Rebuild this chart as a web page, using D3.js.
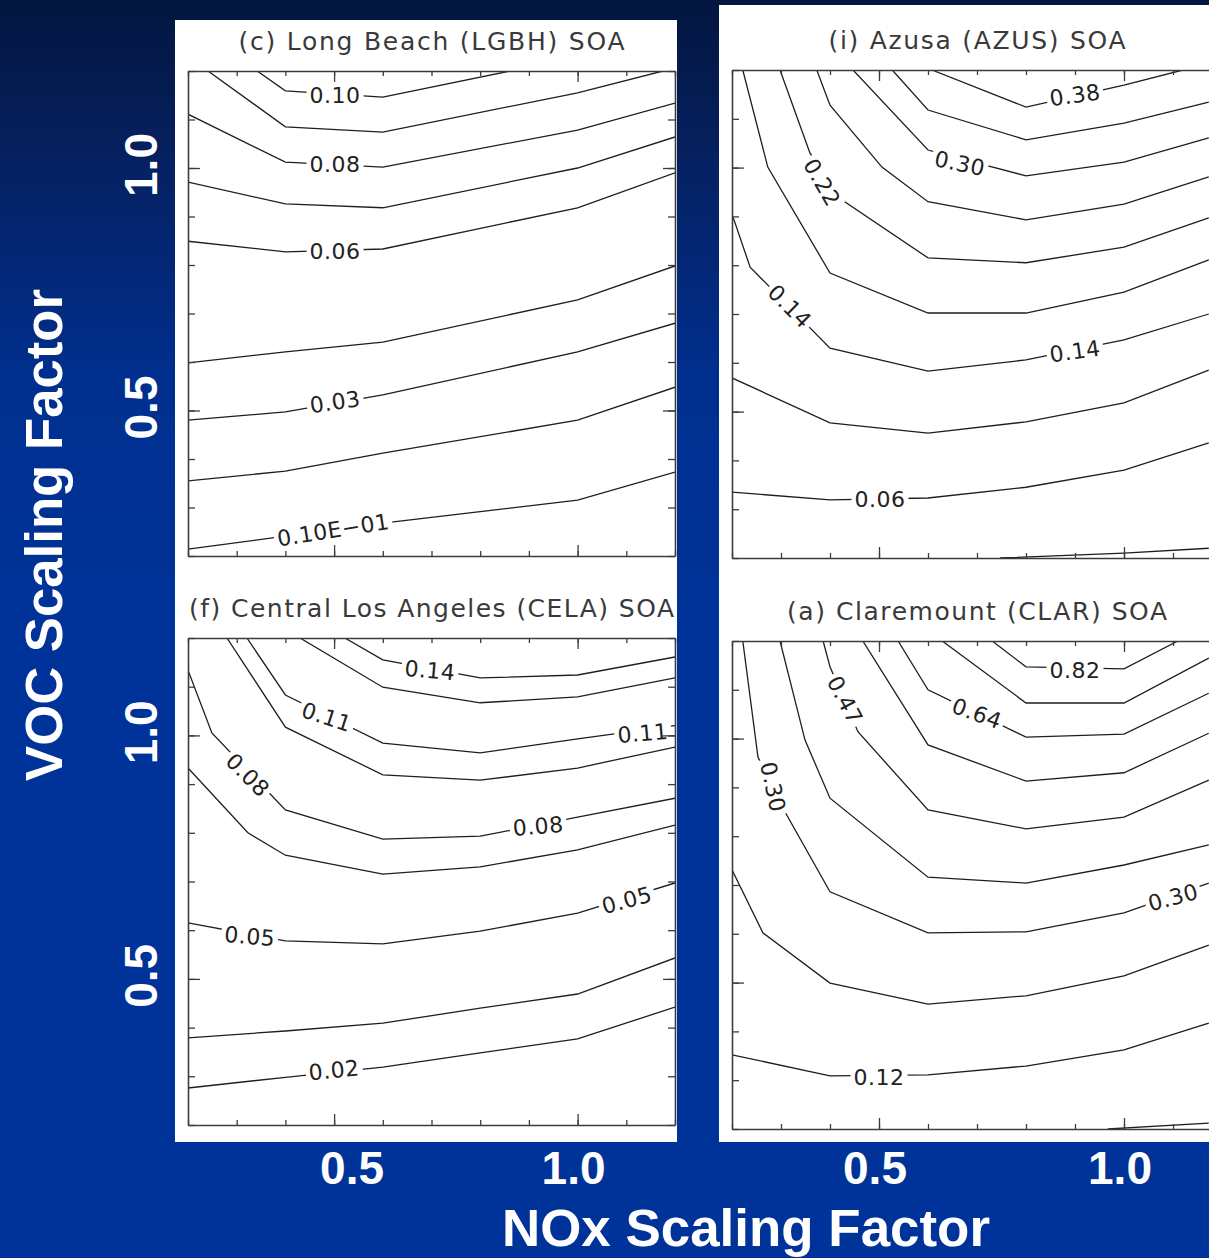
<!DOCTYPE html>
<html>
<head>
<meta charset="utf-8">
<script src="https://cdn.jsdelivr.net/npm/d3@7"></script>
<style>
  body { margin: 0; background: #003399; }
  svg { display: block; }
</style>
</head>
<body>
<div id="chart"></div>
<script>
"use strict"

const width = 1209,
    height = 1258;

// axis ticks (NOx and VOC scaling factors)
const tickValues = [0.2, 0.3, 0.4, 0.5, 0.6, 0.7, 0.8, 0.9, 1.0, 1.1, 1.2];
const majorTicks = [0.5, 1.0];
const axisLabels = ["0.5", "1.0"];

// contour lines, each one a list of [NOx, VOC] points
const lgbhLines = [
    [[0.342, 1.2], [0.4, 1.159], [0.6, 1.146], [0.861, 1.2]],
    [[0.241, 1.2], [0.4, 1.085], [0.6, 1.074], [1.0, 1.155], [1.175, 1.2]],
    [[0.2, 1.111], [0.4, 1.012], [0.6, 1.002], [1.0, 1.078], [1.2, 1.134]],
    [[0.2, 0.971], [0.4, 0.926], [0.6, 0.918], [1.0, 1.0], [1.2, 1.064]],
    [[0.2, 0.849], [0.4, 0.827], [0.6, 0.833], [1.0, 0.918], [1.2, 0.99]],
    [[0.2, 0.598], [0.4, 0.621], [0.6, 0.641], [1.0, 0.728], [1.2, 0.798]],
    [[0.2, 0.48], [0.4, 0.497], [0.6, 0.532], [1.0, 0.621], [1.2, 0.68]],
    [[0.2, 0.355], [0.4, 0.375], [0.6, 0.412], [1.0, 0.48], [1.2, 0.548]],
    [[0.2, 0.214], [0.4, 0.241], [0.6, 0.268], [1.0, 0.315], [1.2, 0.373]]
];
// [text, NOx, VOC, angle]
const lgbhLabels = [
    ["0.10", 0.502, 1.151, 0],
    ["0.08", 0.502, 1.008, 0],
    ["0.06", 0.502, 0.829, 0],
    ["0.03", 0.502, 0.518, -8],
    ["0.10E\u221201", 0.498, 0.254, -9]
];

const azusLines = [
    [[0.608, 1.2], [0.8, 1.124], [1.0, 1.169], [1.12, 1.2]],
    [[0.527, 1.2], [0.6, 1.118], [0.8, 1.057], [1.0, 1.091], [1.173, 1.134]],
    [[0.447, 1.2], [0.6, 1.036], [0.8, 0.983], [1.0, 1.011], [1.173, 1.061]],
    [[0.373, 1.2], [0.4, 1.128], [0.506, 1.001], [0.6, 0.93], [0.8, 0.893], [1.0, 0.925], [1.173, 0.981]],
    [[0.298, 1.2], [0.359, 1.03], [0.424, 0.934], [0.6, 0.815], [0.8, 0.805], [1.0, 0.837], [1.173, 0.897]],
    [[0.222, 1.2], [0.273, 1.001], [0.4, 0.784], [0.6, 0.702], [0.8, 0.702], [1.0, 0.745], [1.173, 0.811]],
    [[0.202, 0.899], [0.237, 0.796], [0.4, 0.63], [0.6, 0.583], [0.8, 0.606], [1.0, 0.647], [1.173, 0.7]],
    [[0.2, 0.569], [0.4, 0.477], [0.6, 0.456], [0.8, 0.479], [1.0, 0.518], [1.173, 0.585]],
    [[0.2, 0.335], [0.4, 0.319], [0.6, 0.323], [0.8, 0.345], [1.0, 0.38], [1.173, 0.436]],
    [[0.747, 0.2], [1.0, 0.21], [1.173, 0.22]]
];
const azusLabels = [
    ["0.38", 0.9, 1.149, -8],
    ["0.30", 0.665, 1.009, 12],
    ["0.22", 0.384, 0.97, 60],
    ["0.14", 0.318, 0.716, 45],
    ["0.14", 0.9, 0.624, -8],
    ["0.06", 0.502, 0.321, 0]
];

const celaLines = [
    [[0.522, 1.2], [0.6, 1.155], [0.8, 1.118], [1.0, 1.124], [1.2, 1.161]],
    [[0.43, 1.2], [0.6, 1.099], [0.8, 1.067], [1.0, 1.079], [1.2, 1.118]],
    [[0.321, 1.2], [0.4, 1.083], [0.6, 0.984], [0.8, 0.964], [1.0, 0.993], [1.2, 1.02]],
    [[0.28, 1.2], [0.4, 1.017], [0.6, 0.919], [0.8, 0.908], [1.0, 0.933], [1.2, 0.976]],
    [[0.2, 1.134], [0.249, 1.005], [0.4, 0.847], [0.6, 0.787], [0.8, 0.793], [1.0, 0.832], [1.2, 0.871]],
    [[0.2, 0.933], [0.323, 0.8], [0.4, 0.754], [0.6, 0.715], [0.8, 0.73], [1.0, 0.765], [1.2, 0.816]],
    [[0.2, 0.615], [0.4, 0.578], [0.6, 0.572], [0.8, 0.598], [1.0, 0.635], [1.2, 0.697]],
    [[0.2, 0.379], [0.4, 0.393], [0.6, 0.409], [0.8, 0.44], [1.0, 0.469], [1.2, 0.543]],
    [[0.2, 0.276], [0.4, 0.298], [0.6, 0.319], [0.8, 0.348], [1.0, 0.377], [1.2, 0.442]]
];
const celaLabels = [
    ["0.14", 0.697, 1.134, 5],
    ["0.11", 0.485, 1.038, 18],
    ["0.11", 1.134, 1.005, -5],
    ["0.08", 0.323, 0.919, 45],
    ["0.08", 0.919, 0.814, -5],
    ["0.05", 0.327, 0.588, 5],
    ["0.05", 1.101, 0.662, -15],
    ["0.02", 0.5, 0.313, -6]
];

const clarLines = [
    [[0.731, 1.2], [0.8, 1.147], [1.0, 1.143], [1.11, 1.2]],
    [[0.629, 1.2], [0.8, 1.073], [1.0, 1.073], [1.173, 1.165]],
    [[0.539, 1.2], [0.6, 1.1], [0.8, 1.003], [1.0, 1.009], [1.173, 1.093]],
    [[0.467, 1.2], [0.6, 0.987], [0.8, 0.913], [1.0, 0.93], [1.173, 1.011]],
    [[0.386, 1.2], [0.4, 1.147], [0.457, 1.014], [0.6, 0.854], [0.8, 0.815], [1.0, 0.839], [1.173, 0.915]],
    [[0.298, 1.2], [0.349, 0.997], [0.4, 0.878], [0.6, 0.716], [0.8, 0.704], [1.0, 0.741], [1.173, 0.782]],
    [[0.222, 1.2], [0.253, 0.962], [0.312, 0.843], [0.4, 0.686], [0.6, 0.602], [0.8, 0.604], [1.0, 0.643], [1.173, 0.704]],
    [[0.2, 0.731], [0.263, 0.602], [0.4, 0.499], [0.6, 0.456], [0.8, 0.473], [1.0, 0.514], [1.173, 0.577]],
    [[0.2, 0.352], [0.4, 0.309], [0.6, 0.311], [0.8, 0.329], [1.0, 0.362], [1.173, 0.417]],
    [[0.967, 0.2], [1.173, 0.212]]
];
const clarLabels = [
    ["0.82", 0.9, 1.141, 0],
    ["0.64", 0.7, 1.052, 20],
    ["0.47", 0.431, 1.079, 62],
    ["0.30", 0.284, 0.901, 78],
    ["0.30", 1.1, 0.675, -15],
    ["0.12", 0.5, 0.307, 0]
];

// panel layout
const panels = [
    {title: "(c) Long Beach (LGBH) SOA", titleW: 386, left: 188, bottom: 556, w: 487, h: 485, lines: lgbhLines, labels: lgbhLabels},
    {title: "(i) Azusa (AZUS) SOA", titleW: 297, left: 732, bottom: 558, w: 490, h: 488, lines: azusLines, labels: azusLabels},
    {title: "(f) Central Los Angeles (CELA) SOA", titleW: 485, left: 188, bottom: 1125, w: 487, h: 487, lines: celaLines, labels: celaLabels},
    {title: "(a) Claremount (CLAR) SOA", titleW: 380, left: 732, bottom: 1129, w: 490, h: 488, lines: clarLines, labels: clarLabels}
];

const svg = d3.select("#chart").append("svg")
    .attr("width", width)
    .attr("height", height);

const defs = svg.append("defs");
const grad = defs.append("linearGradient")
    .attr("id", "bg")
    .attr("x1", 0).attr("y1", 0)
    .attr("x2", 0).attr("y2", 1);
grad.append("stop").attr("offset", "0%").attr("stop-color", "#03163f");
grad.append("stop").attr("offset", "12%").attr("stop-color", "#06205f");
grad.append("stop").attr("offset", "30%").attr("stop-color", "#002f8e");
grad.append("stop").attr("offset", "50%").attr("stop-color", "#003399");
grad.append("stop").attr("offset", "100%").attr("stop-color", "#003399");

svg.append("rect")
    .attr("width", width)
    .attr("height", height)
    .attr("fill", "url(#bg)");

// white boards behind the plots
svg.append("rect")
    .attr("x", 175).attr("y", 20)
    .attr("width", 502).attr("height", 1122)
    .attr("fill", "#fff");
svg.append("rect")
    .attr("x", 719).attr("y", 5)
    .attr("width", 490).attr("height", 1137)
    .attr("fill", "#fff");

const scales = [];

panels.forEach((p, i) => {
    const x = d3.scaleLinear().domain([0.2, 1.2]).range([p.left, p.left + p.w]);
    const y = d3.scaleLinear().domain([0.2, 1.2]).range([p.bottom, p.bottom - p.h]);
    scales.push({x, y});
    const top = p.bottom - p.h;

    defs.append("clipPath").attr("id", "clip" + i)
        .append("rect")
        .attr("x", p.left).attr("y", top)
        .attr("width", p.w).attr("height", p.h);

    const g = svg.append("g");

    g.append("text")
        .attr("x", p.left + p.w / 2)
        .attr("y", top - 21)
        .attr("text-anchor", "middle")
        .attr("textLength", p.titleW)
        .attr("lengthAdjust", "spacing")
        .style("font-family", "'DejaVu Sans', sans-serif")
        .style("font-size", "25px")
        .style("fill", "#3a3a3a")
        .text(p.title);

    const line = d3.line()
        .x(d => x(d[0]))
        .y(d => y(d[1]));

    g.append("g")
        .attr("clip-path", `url(#clip${i})`)
        .selectAll("path")
        .data(p.lines)
        .join("path")
        .attr("d", line)
        .attr("fill", "none")
        .attr("stroke", "#1e1e1e")
        .attr("stroke-width", 1.3);

    // contour labels with a white gap in the line
    const lab = g.append("g")
        .attr("clip-path", `url(#clip${i})`)
        .selectAll("g")
        .data(p.labels)
        .join("g")
        .attr("transform", d => `translate(${x(d[1])},${y(d[2])}) rotate(${d[3]})`);
    const txt = lab.append("text")
        .attr("text-anchor", "middle")
        .attr("dy", "0.36em")
        .style("font-family", "'DejaVu Sans', sans-serif")
        .style("font-size", "22px")
        .style("letter-spacing", "0.5px")
        .style("fill", "#222")
        .text(d => d[0]);
    txt.each(function () {
        const b = this.getBBox();
        d3.select(this.parentNode).insert("rect", "text")
            .attr("x", b.x - 3)
            .attr("y", b.y + 2)
            .attr("width", b.width + 6)
            .attr("height", b.height - 4)
            .attr("fill", "#fff");
    });

    // frame and ticks, pointing inwards
    const axisColor = "#3c3c3c";
    const addAxis = (axis, tr, size, values, keepDomain) => {
        const a = g.append("g")
            .attr("transform", tr)
            .style("color", axisColor)
            .call(axis.tickValues(values).tickSize(-size).tickSizeOuter(0).tickFormat(""));
        a.selectAll("line").attr("stroke-width", 1.3);
        if (keepDomain) a.select(".domain").attr("stroke-width", 1.6);
        else a.select(".domain").remove();
    };
    addAxis(d3.axisBottom(x), `translate(0,${p.bottom})`, 5, tickValues, true);
    addAxis(d3.axisBottom(x), `translate(0,${p.bottom})`, 11, majorTicks, false);
    addAxis(d3.axisTop(x), `translate(0,${top})`, 5, tickValues, true);
    addAxis(d3.axisTop(x), `translate(0,${top})`, 11, majorTicks, false);
    addAxis(d3.axisLeft(y), `translate(${p.left},0)`, 7, tickValues, true);
    addAxis(d3.axisLeft(y), `translate(${p.left},0)`, 12, majorTicks, false);
    addAxis(d3.axisRight(y), `translate(${p.left + p.w},0)`, 7, tickValues, true);
    addAxis(d3.axisRight(y), `translate(${p.left + p.w},0)`, 12, majorTicks, false);
});

// slide labels in white
const bold = "'Liberation Sans', Arial, sans-serif";

[scales[2], scales[3]].forEach((s, k) => {
    svg.selectAll(null)
        .data(majorTicks)
        .join("text")
        .attr("x", (d, j) => s.x(d) + (k === 0 && j === 0 ? 18 : -4))
        .attr("y", 1184)
        .attr("text-anchor", "middle")
        .style("font-family", bold)
        .style("font-weight", "bold")
        .style("font-size", "46px")
        .style("fill", "#fff")
        .text((d, j) => axisLabels[j]);
});

[scales[0], scales[2]].forEach(s => {
    svg.selectAll(null)
        .data(majorTicks)
        .join("text")
        .attr("transform", d => `translate(157,${s.y(d) - 3}) rotate(-90)`)
        .attr("text-anchor", "middle")
        .style("font-family", bold)
        .style("font-weight", "bold")
        .style("font-size", "46px")
        .style("fill", "#fff")
        .text((d, j) => axisLabels[j]);
});

svg.append("text")
    .attr("transform", "translate(62,535) rotate(-90)")
    .attr("text-anchor", "middle")
    .attr("textLength", 492)
    .attr("lengthAdjust", "spacingAndGlyphs")
    .style("font-family", bold)
    .style("font-weight", "bold")
    .style("font-size", "51px")
    .style("fill", "#fff")
    .text("VOC Scaling Factor");

svg.append("text")
    .attr("x", 746)
    .attr("y", 1246)
    .attr("text-anchor", "middle")
    .attr("textLength", 488)
    .attr("lengthAdjust", "spacingAndGlyphs")
    .style("font-family", bold)
    .style("font-weight", "bold")
    .style("font-size", "51px")
    .style("fill", "#fff")
    .text("NOx Scaling Factor");
</script>
</body>
</html>
